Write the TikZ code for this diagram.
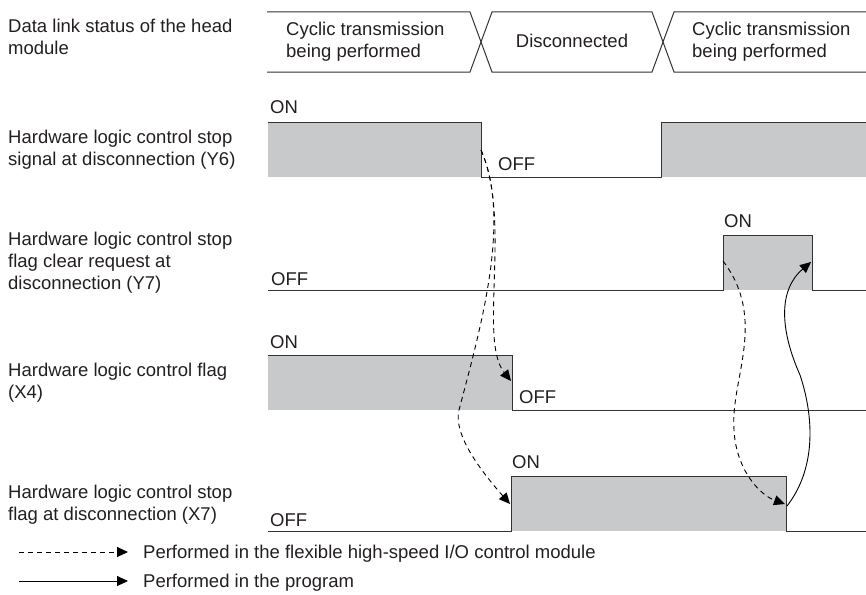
\documentclass[tikz,border=0pt]{standalone}
\usepackage{fontspec}
\setmainfont{Liberation Sans}
\usetikzlibrary{arrows.meta}

\definecolor{pulso}{HTML}{C8C9CB}
\definecolor{trazo}{HTML}{333333}
\definecolor{texto}{HTML}{231F20}

\begin{document}
\begin{tikzpicture}[
    x=1pt, y=-1pt,
    font=\fontsize{18.5}{22}\selectfont, text=texto,
    etiqueta/.style={anchor=north west, inner sep=0pt, align=left},
    nivel/.style={anchor=base west, inner sep=0pt},
    senal/.style={draw=trazo, line width=1pt, line join=miter},
    relleno/.style={fill=pulso, draw=none},
    flechaModulo/.style={-{Triangle[length=11pt,width=10pt]}, draw=black, line width=0.9pt, dash pattern=on 5pt off 4pt},
    flechaPrograma/.style={-{Triangle[length=11pt,width=10pt]}, draw=black, line width=0.9pt}
]
    \useasboundingbox (0,0) rectangle (866,594);

    % --- ETIQUETAS DE LAS SEÑALES ---
    \node[etiqueta] (lblBus) at (8,19)    {Data link status of the head\\module};
    \node[etiqueta] (lblY6)  at (8,130)   {Hardware logic control stop\\signal at disconnection (Y6)};
    \node[etiqueta] (lblY7)  at (8,231.5) {Hardware logic control stop\\flag clear request at\\disconnection (Y7)};
    \node[etiqueta] (lblX4)  at (8,362.5) {Hardware logic control flag\\(X4)};
    \node[etiqueta] (lblX7)  at (8,484.5) {Hardware logic control stop\\flag at disconnection (X7)};

    % --- ESTADO DEL ENLACE ---
    \draw[senal] (267,12) -- (470,12) -- (492,72) -- (652,72) -- (674,12) -- (866,12);
    \draw[senal] (267,72) -- (470,72) -- (492,12) -- (652,12) -- (674,72) -- (866,72);
    \node[etiqueta] (busCiclico1) at (286,21.5) {Cyclic transmission\\being performed};
    \node[anchor=base, inner sep=0pt] (busDesc) at (572,48) {Disconnected};
    \node[etiqueta] (busCiclico2) at (692,21.5) {Cyclic transmission\\being performed};

    % --- Y6 ---
    \fill[relleno] (268,122) rectangle (481,177);
    \fill[relleno] (661,122) rectangle (866,177);
    \draw[senal] (268,122) -- (481,122) -- (481,177) -- (661,177) -- (661,122) -- (866,122);
    \node[nivel] (y6On)  at (270,113) {ON};
    \node[nivel] (y6Off) at (498,170) {OFF};

    % --- Y7 ---
    \fill[relleno] (723,235) rectangle (812,290);
    \draw[senal] (268,290) -- (723,290) -- (723,235) -- (812,235) -- (812,290) -- (866,290);
    \node[nivel] (y7On)  at (724,227) {ON};
    \node[nivel] (y7Off) at (271,285) {OFF};

    % --- X4 ---
    \fill[relleno] (268,355) rectangle (512,410);
    \draw[senal] (268,355) -- (512,355) -- (512,410) -- (866,410);
    \node[nivel] (x4On)  at (270,348) {ON};
    \node[nivel] (x4Off) at (519,403) {OFF};

    % --- X7 ---
    \fill[relleno] (511,476) rectangle (786,531);
    \draw[senal] (268,531) -- (511,531) -- (511,476) -- (786,476) -- (786,531) -- (866,531);
    \node[nivel] (x7On)  at (512,468) {ON};
    \node[nivel] (x7Off) at (270,526) {OFF};

    % --- PUNTOS DE LOS FLANCOS ---
    \coordinate (y6Baja)  at (481,150);
    \coordinate (x4Baja)  at (511,381);
    \coordinate (x7Sube)  at (510,504);
    \coordinate (y7Sube)  at (723,261);
    \coordinate (x7Baja)  at (785,504);
    \coordinate (x7Sale)  at (787,506);
    \coordinate (y7Baja)  at (811,262);

    % --- FLECHAS ---
    \draw[flechaModulo] (y6Baja) .. controls (512,220) and (478,340) .. (x4Baja);
    \draw[flechaModulo] (y6Baja) .. controls (512,220) and (480,330) .. (459,410)
        .. controls (453,434) and (480,470) .. (x7Sube);
    \draw[flechaModulo] (y7Sube) .. controls (768,320) and (730,380) .. (734,430)
        .. controls (736,470) and (760,495) .. (x7Baja);
    \draw[flechaPrograma] (x7Sale) .. controls (815,470) and (815,420) .. (800,375)
        .. controls (780,330) and (778,290) .. (y7Baja);

    % --- LEYENDA ---
    \coordinate (leyA1) at (19,552);
    \coordinate (leyA2) at (128,552);
    \coordinate (leyB1) at (19,581);
    \coordinate (leyB2) at (128,581);
    \draw[flechaModulo] (leyA1) -- (leyA2);
    \draw[flechaPrograma] (leyB1) -- (leyB2);
    \node[nivel] (leyModulo)   at (143,558) {Performed in the flexible high-speed I/O control module};
    \node[nivel] (leyPrograma) at (143,587) {Performed in the program};

\end{tikzpicture}
\end{document}
